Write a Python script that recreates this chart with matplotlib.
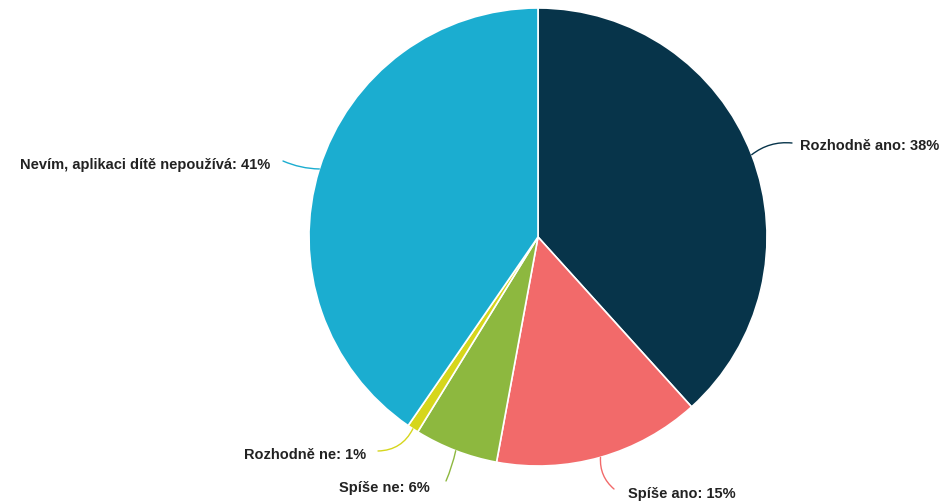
import numpy as np
import matplotlib.pyplot as plt

plt.rcParams['font.family'] = ['Liberation Sans', 'DejaVu Sans']

# data
categories = ['Rozhodně ano', 'Spíše ano', 'Spíše ne', 'Rozhodně ne',
              'Nevím, aplikaci dítě nepoužívá']
values = [38.3, 14.6, 5.9, 0.8, 40.4]
shown_pct = [38, 15, 6, 1, 41]
colors = ['#07344a', '#f26a6a', '#8db83f', '#d6d61c', '#1badd0']

# label text anchors and connector ends (pixels)
label_px = [(800, 146), (628, 494), (430, 488), (366, 455), (270, 165)]
line_end_px = [(792, 143), (614, 489), (446, 481), (378, 451), (283, 161)]
label_ha = ['left', 'left', 'right', 'right', 'right']
rads = [0.2, -0.25, 0.05, 0.3, 0.1]

W, H = 945, 504
cx, cy, R = 538, 237, 229

fig = plt.figure(figsize=(W / 100, H / 100), dpi=100)
ax = fig.add_axes([(cx - R) / W, (H - cy - R) / H, 2 * R / W, 2 * R / H])

wedges, _ = ax.pie(values, colors=colors, startangle=90, counterclock=False,
                   wedgeprops=dict(edgecolor='white', linewidth=1.2))
ax.set_xlim(-1, 1)
ax.set_ylim(-1, 1)
ax.set_aspect('auto')
ax.axis('off')


def to_data(p):
    return (p[0] - cx) / R, (cy - p[1]) / R


for w, cat, pct, lp, ep, ha, rad, col in zip(wedges, categories, shown_pct,
                                             label_px, line_end_px, label_ha,
                                             rads, colors):
    ang = np.deg2rad((w.theta1 + w.theta2) / 2)
    x0, y0 = np.cos(ang), np.sin(ang)
    ax.annotate('', xy=(x0, y0), xytext=to_data(ep), annotation_clip=False,
                arrowprops=dict(arrowstyle='-', color=col, lw=1,
                                shrinkA=0, shrinkB=0,
                                connectionstyle=f'arc3,rad={rad}'))
    tx, ty = to_data(lp)
    ax.text(tx, ty, f'{cat}: {pct}%', ha=ha, va='center', fontsize=10.5,
            fontweight='bold', color='#222222', clip_on=False)

fig.savefig('out.png', dpi=100, facecolor='white')
